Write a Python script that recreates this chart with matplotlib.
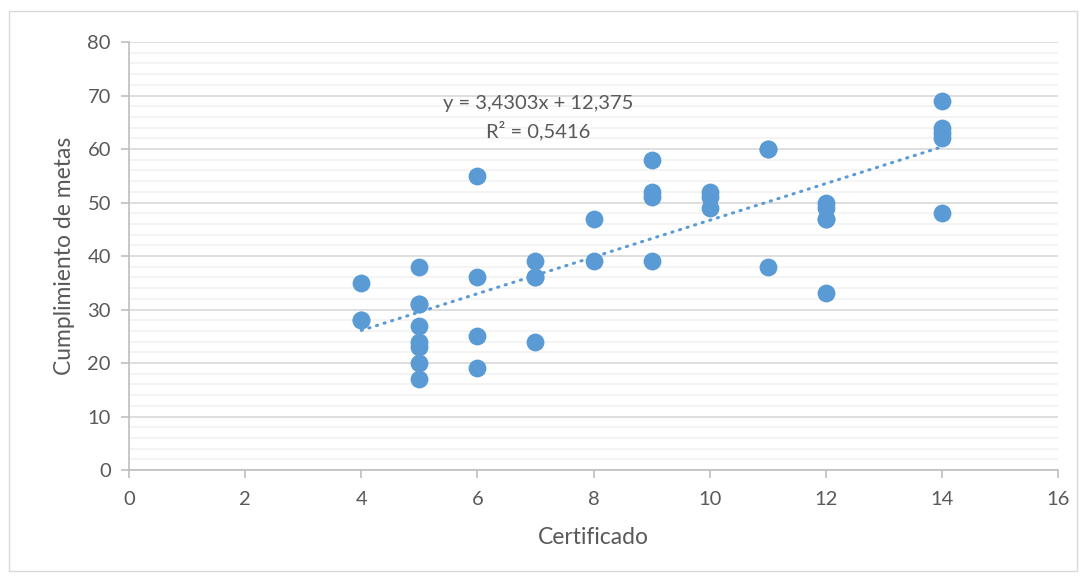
import matplotlib.pyplot as plt
from matplotlib.patches import Rectangle
from matplotlib.ticker import MultipleLocator

# Certificado (x) and Cumplimiento de metas (y)
certificado = [4, 4, 4,
               5, 5, 5, 5, 5, 5, 5, 5,
               6, 6, 6, 6,
               7, 7, 7, 7,
               8, 8,
               9, 9, 9, 9,
               10, 10, 10,
               11, 11, 11,
               12, 12, 12, 12, 12,
               14, 14, 14, 14, 14]
metas = [35, 28, 28,
         38, 31, 31, 27, 24, 23, 20, 17,
         55, 36, 25, 19,
         39, 36, 36, 24,
         47, 39,
         58, 52, 51, 39,
         52, 51, 49,
         60, 60, 38,
         50, 49, 47, 47, 33,
         69, 64, 63, 62, 48]

# Linear trendline shown in the chart
slope = 3.4303
intercept = 12.375
r2 = 0.5416

blue = '#5B9BD5'
gray_text = '#595959'
plt.rcParams['font.family'] = ['Lato', 'DejaVu Sans']

fig = plt.figure(figsize=(10.87, 5.81), dpi=100)
ax = fig.add_axes([0.1187, 0.191, 0.8546, 0.7367])

# outer chart border
fig.patches.append(Rectangle((9 / 1087, 10 / 581), 1068 / 1087, 560 / 581,
                             transform=fig.transFigure, fill=False,
                             edgecolor='#D9D9D9', linewidth=1))

ax.scatter(certificado, metas, s=165, color=blue, zorder=3, linewidths=0)

x_lo, x_hi = min(certificado), max(certificado)
ax.plot([x_lo, x_hi], [slope * x_lo + intercept, slope * x_hi + intercept],
        color=blue, linewidth=2.2, linestyle=(0, (0.4, 2.2)),
        dash_capstyle='round', zorder=2)

eq = f'y = {slope:.4f}x + {intercept:.3f}'.replace('.', ',')
ax.text(7.05, 68.5, eq, ha='center', va='center', fontsize=14.5, color=gray_text)
ax.text(7.05, 63.4, f'R² = {r2:.4f}'.replace('.', ','), ha='center',
        va='center', fontsize=14.5, color=gray_text)

ax.set_xlim(0, 16)
ax.set_ylim(0, 80)
ax.xaxis.set_major_locator(MultipleLocator(2))
ax.yaxis.set_major_locator(MultipleLocator(10))
ax.yaxis.set_minor_locator(MultipleLocator(2))

ax.grid(which='major', axis='y', color='#D9D9D9', linewidth=1.2, zorder=0)
ax.grid(which='minor', axis='y', color='#F2F2F2', linewidth=1.2, zorder=0)
ax.set_axisbelow(True)

for s in ['top', 'right']:
    ax.spines[s].set_visible(False)
for s in ['left', 'bottom']:
    ax.spines[s].set_color('#BFBFBF')
    ax.spines[s].set_linewidth(1.2)

ax.tick_params(axis='x', which='major', length=6, color='#BFBFBF', width=1.2,
               labelsize=14.5, labelcolor=gray_text, pad=9)
ax.tick_params(axis='y', which='major', length=6, color='#BFBFBF', width=1.2,
               labelsize=14.5, labelcolor=gray_text, pad=7)
ax.tick_params(axis='y', which='minor', length=0)

ax.set_xlabel('Certificado', fontsize=16.5, color=gray_text, labelpad=14)
ax.set_ylabel('Cumplimiento de metas', fontsize=16.5, color=gray_text, labelpad=9)

fig.savefig('out.png', dpi=100)
